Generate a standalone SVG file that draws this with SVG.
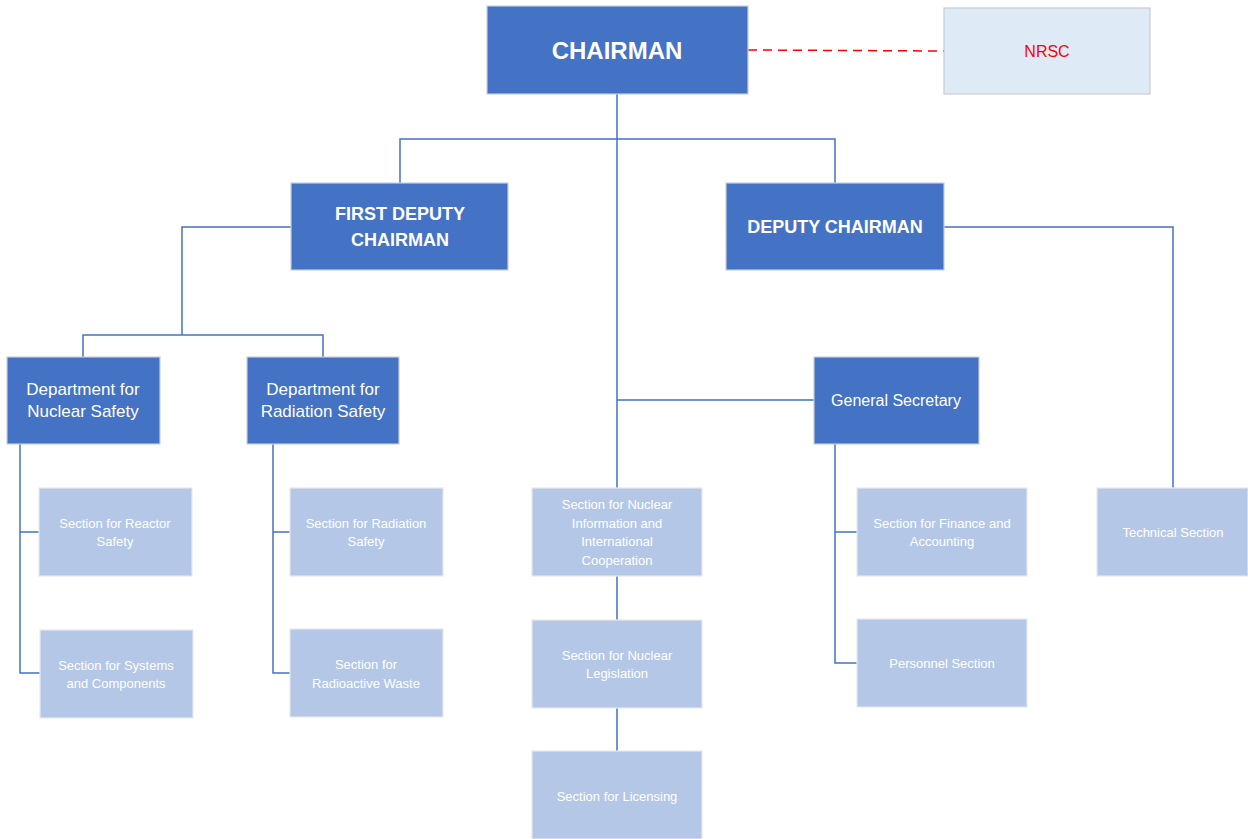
<svg xmlns="http://www.w3.org/2000/svg" width="1248" height="839" viewBox="0 0 1248 839">
<style>
.d{fill:#4472C4;stroke:#C9CED6;stroke-width:1.2}
.l{fill:#B4C7E7;stroke:#E4E8EE;stroke-width:1.2}
.n{fill:#DEEBF7;stroke:#C8CBD0;stroke-width:1.2}
text{font-family:"Liberation Sans",Arial,sans-serif;fill:#fff;text-anchor:middle}
.b{font-weight:bold}
.t13{font-size:13px}
.t17{font-size:17px}
.c{stroke:#4472C4;stroke-width:1.5;fill:none}
</style>
<g id="connectors">
<path class="c" d="M617,94 V488 M400,183 V139 H835 V183 M291,227 H182 V335 M83,357 V335 H323 V357 M944,227 H1173 V488 M617,400 H814 M617,576 V620 M617,708 V751 M835,444 V663 H857 M835,532 H857 M20,444 V673 H40 M20,532 H39 M273,444 V673 H290 M273,532 H290"/>
<path d="M748,50 L944,51" stroke="#FF0000" stroke-width="1.5" stroke-dasharray="9,6" fill="none"/>
</g>
<g id="chairman"><rect class="d" x="487" y="6" width="261" height="88"/><text class="b" x="617" y="58.5" font-size="24">CHAIRMAN</text></g>
<g id="nrsc"><rect class="n" x="944" y="8" width="206" height="86"/><text x="1047" y="57" font-size="16" style="fill:#FF0000">NRSC</text></g>
<g id="first-deputy"><rect class="d" x="291" y="183" width="217" height="87"/><text class="b" font-size="18" x="400" y="219.5">FIRST DEPUTY</text><text class="b" font-size="18" x="400" y="245.5">CHAIRMAN</text></g>
<g id="deputy"><rect class="d" x="726" y="183" width="218" height="87"/><text class="b" font-size="18" x="835" y="232.5">DEPUTY CHAIRMAN</text></g>
<g id="dept-nuclear"><rect class="d" x="7" y="357" width="153" height="87"/><text class="t17" x="83" y="395">Department for</text><text class="t17" x="83" y="417">Nuclear Safety</text></g>
<g id="dept-radiation"><rect class="d" x="247" y="357" width="152" height="87"/><text class="t17" x="323" y="395">Department for</text><text class="t17" x="323" y="417">Radiation Safety</text></g>
<g id="general-secretary"><rect class="d" x="814" y="357" width="165" height="87"/><text font-size="16" x="896" y="405.5">General Secretary</text></g>
<g id="reactor"><rect class="l" x="39" y="488" width="153" height="88"/><text class="t13" x="115" y="527.5">Section for Reactor</text><text class="t13" x="115" y="545.5">Safety</text></g>
<g id="systems"><rect class="l" x="40" y="630" width="153" height="88"/><text class="t13" x="116" y="669.5">Section for Systems</text><text class="t13" x="116" y="687.5">and Components</text></g>
<g id="radiation-safety"><rect class="l" x="290" y="488" width="153" height="88"/><text class="t13" x="366" y="527.5">Section for Radiation</text><text class="t13" x="366" y="545.5">Safety</text></g>
<g id="waste"><rect class="l" x="290" y="629" width="153" height="88"/><text class="t13" x="366" y="668.5">Section for</text><text class="t13" x="366" y="687.5">Radioactive Waste</text></g>
<g id="info"><rect class="l" x="532" y="488" width="170" height="88"/><text class="t13" x="617" y="508.5">Section for Nuclear</text><text class="t13" x="617" y="527.5">Information and</text><text class="t13" x="617" y="545.5">International</text><text class="t13" x="617" y="564.5">Cooperation</text></g>
<g id="legislation"><rect class="l" x="532" y="620" width="170" height="88"/><text class="t13" x="617" y="659.5">Section for Nuclear</text><text class="t13" x="617" y="677.5">Legislation</text></g>
<g id="licensing"><rect class="l" x="532" y="751" width="170" height="88"/><text class="t13" x="617" y="800.5">Section for Licensing</text></g>
<g id="finance"><rect class="l" x="857" y="488" width="170" height="88"/><text class="t13" x="942" y="527.5">Section for Finance and</text><text class="t13" x="942" y="545.5">Accounting</text></g>
<g id="personnel"><rect class="l" x="857" y="619" width="170" height="88"/><text class="t13" x="942" y="667.5">Personnel Section</text></g>
<g id="technical"><rect class="l" x="1097" y="488" width="151" height="88"/><text class="t13" x="1173" y="536.5">Technical Section</text></g>
</svg>
